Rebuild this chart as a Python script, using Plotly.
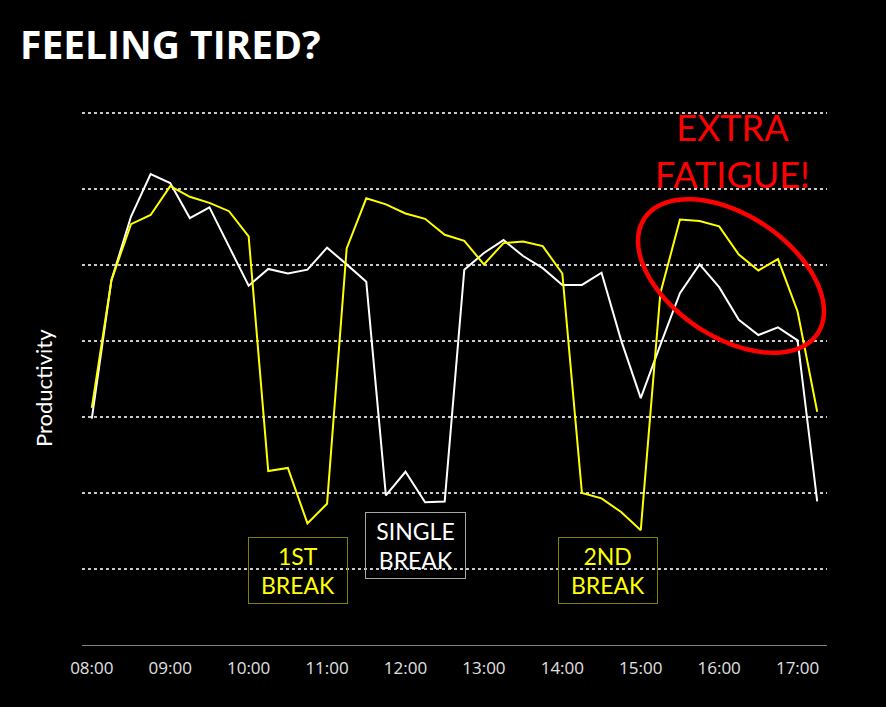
import numpy as np
import plotly.graph_objects as go

times = ["08:00","08:15","08:30","08:45","09:00","09:15","09:30","09:45",
         "10:00","10:15","10:30","10:45","11:00","11:15","11:30","11:45",
         "12:00","12:15","12:30","12:45","13:00","13:15","13:30","13:45",
         "14:00","14:15","14:30","14:45","15:00","15:15","15:30","15:45",
         "16:00","16:15","16:30","16:45","17:00","17:15"]

single_break = [2.98, 4.80, 5.64, 6.20, 6.08, 5.62, 5.76, 5.24,
                4.73, 4.95, 4.89, 4.94, 5.23, 5.01, 4.78, 1.97,
                2.28, 1.88, 1.89, 4.94, 5.16, 5.33, 5.12, 4.96,
                4.74, 4.74, 4.90, 4.01, 3.25, 3.95, 4.63, 5.01,
                4.71, 4.28, 4.08, 4.18, 4.01, 1.89]

two_breaks = [3.12, 4.80, 5.54, 5.66, 6.04, 5.90, 5.82, 5.71,
              5.38, 2.29, 2.33, 1.60, 1.86, 5.22, 5.88, 5.80,
              5.68, 5.61, 5.40, 5.32, 5.01, 5.29, 5.31, 5.25,
              4.89, 2.00, 1.93, 1.75, 1.51, 4.63, 5.60, 5.58,
              5.51, 5.14, 4.93, 5.08, 4.39, 3.07]

tick_labels = ["08:00","09:00","10:00","11:00","12:00",
               "13:00","14:00","15:00","16:00","17:00"]

W, H = 886, 707
L, R, T, B = 82, 59, 98, 62
PW, PH = W - L - R, H - T - B
YMAX = 7.2
XMIN, XMAX = -0.5, len(times) - 0.5

def px2paper_x(px):
    return (px - L) / PW

def px2paper_y(py):
    return (H - B - py) / PH

def px2data_x(px):
    return XMIN + (px - L) / PW * (XMAX - XMIN)

def px2data_y(py):
    return (H - B - py) / PH * YMAX

fig = go.Figure()
fig.add_trace(go.Scatter(x=times, y=single_break, mode="lines",
                         line=dict(color="#ffffff", width=2), name="Single break"))
fig.add_trace(go.Scatter(x=times, y=two_breaks, mode="lines",
                         line=dict(color="#ffff00", width=2), name="Two breaks"))

# ellipse around the late-afternoon section
cx, cy, a, b, th = 731, 276, 104, 61, np.deg2rad(33.6)
t = np.linspace(0, 2 * np.pi, 120)
ex = cx + a * np.cos(t) * np.cos(th) - b * np.sin(t) * np.sin(th)
ey = cy + a * np.cos(t) * np.sin(th) + b * np.sin(t) * np.cos(th)
path = "M " + " L ".join(f"{px2data_x(x):.4f},{px2data_y(y):.4f}" for x, y in zip(ex, ey)) + " Z"
fig.add_shape(type="path", path=path, xref="x", yref="y",
              line=dict(color="#ff0000", width=4.5))

annotations = [
    dict(text="<b>FEELING TIRED?</b>", xref="paper", yref="paper",
         x=px2paper_x(18), y=px2paper_y(44), xanchor="left", yanchor="middle",
         showarrow=False, font=dict(family="Open Sans", size=39, color="#ffffff")),
    dict(text="Productivity", xref="paper", yref="paper",
         x=px2paper_x(43), y=px2paper_y(388), xanchor="center", yanchor="middle",
         textangle=-90, showarrow=False,
         font=dict(family="Lato", size=22, color="#ffffff")),
    dict(text="EXTRA<br>FATIGUE!", xref="paper", yref="paper",
         x=px2paper_x(732), y=px2paper_y(150), xanchor="center", yanchor="middle",
         showarrow=False, font=dict(family="Lato", size=36, color="#ff0000")),
    dict(text="1ST<br>BREAK", xref="paper", yref="paper",
         x=px2paper_x(297.5), y=px2paper_y(570.5), xanchor="center", yanchor="middle",
         showarrow=False, width=96, height=63, borderpad=1, borderwidth=1,
         bordercolor="#808000", font=dict(family="Lato", size=23, color="#ffff00")),
    dict(text="SINGLE<br>BREAK", xref="paper", yref="paper",
         x=px2paper_x(415), y=px2paper_y(545.7), xanchor="center", yanchor="middle",
         showarrow=False, width=97, height=63, borderpad=1, borderwidth=1,
         bordercolor="#a6a6a6", font=dict(family="Lato", size=23, color="#ffffff")),
    dict(text="2ND<br>BREAK", xref="paper", yref="paper",
         x=px2paper_x(608.3), y=px2paper_y(570.5), xanchor="center", yanchor="middle",
         showarrow=False, width=96, height=63, borderpad=1, borderwidth=1,
         bordercolor="#808000", font=dict(family="Lato", size=23, color="#ffff00")),
]

fig.update_layout(
    width=W, height=H,
    margin=dict(l=L, r=R, t=T, b=B, pad=0),
    paper_bgcolor="#000000", plot_bgcolor="#000000",
    showlegend=False,
    annotations=annotations,
    xaxis=dict(type="category", categoryorder="array", categoryarray=times,
               range=[XMIN, XMAX], tickvals=tick_labels, ticktext=tick_labels,
               showgrid=False, showline=True, linecolor="#7f7f7f", linewidth=1,
               ticks="", ticklabelstandoff=8,
               tickfont=dict(family="Open Sans", size=17, color="#e0e0e0"),
               zeroline=False),
    yaxis=dict(range=[0, YMAX], tickvals=[1, 2, 3, 4, 5, 6, 7],
               showticklabels=False, showgrid=True, gridcolor="#c8c8c8",
               griddash="dot", gridwidth=1.5, zeroline=False, showline=False,
               ticks=""),
)

fig.write_html("out.html",
               config={"displayModeBar": False},
               post_script="document.body.style.margin='0';document.body.style.padding='0';"
                           "document.body.style.overflow='hidden';"
                           "document.body.style.background='#000';")
